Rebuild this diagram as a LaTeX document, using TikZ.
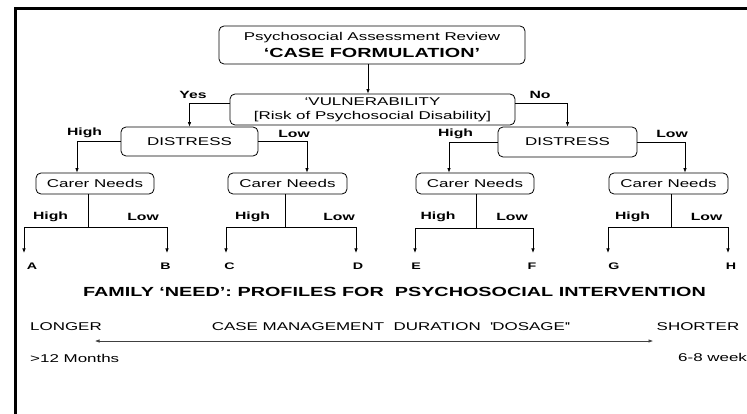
\documentclass[tikz,border=0pt]{standalone}
\usepackage{fontspec}
\setmainfont{Liberation Sans}[FakeStretch=1.5]
\usetikzlibrary{arrows.meta}

\tikzset{
  box/.style={draw, rounded corners=5pt, line width=0.8pt, inner sep=0pt, align=center, font=\fontsize{11.3}{14}\selectfont},
  lab/.style={font=\bfseries\fontsize{10.5}{12}\selectfont, inner sep=0pt},
  leaf/.style={font=\bfseries\fontsize{9.5}{11}\selectfont, inner sep=0pt},
  txt/.style={font=\fontsize{11.3}{13}\selectfont, inner sep=0pt},
  link/.style={line width=0.7pt, ->},
  stem/.style={line width=0.7pt},
}

\begin{document}
\begin{tikzpicture}[x=1pt, y=-1pt, >={Latex[length=4.5pt,width=3.5pt]}]
	\useasboundingbox (0,0) rectangle (747,414);
	% frame
	\draw[line width=3pt] (15,420) -- (15,9) -- (750,9);

	% top of the tree
	\node[box, minimum width=306pt, minimum height=38pt] (case) at (372,45)
		{Psychosocial Assessment Review\\[3pt]{\bfseries\fontsize{13.2}{15}\selectfont ‘CASE FORMULATION’}};
	\node[box, minimum width=285pt, minimum height=31pt] (vul) at (372.5,109.5)
		{‘VULNERABILITY\\{[Risk of Psychosocial Disability]}};
	\draw[link] ([xshift=-4pt]case.south) -- ([xshift=-4.5pt]vul.north);

	\node[box, minimum width=137pt, minimum height=29pt] (dist1) at (189.5,141.5) {DISTRESS};
	\node[box, minimum width=139pt, minimum height=30pt] (dist2) at (567.5,142) {DISTRESS};
	\node[lab] (yes) at (193,95) {Yes};
	\node[lab] (no) at (540,95) {No};
	\draw[link] ([yshift=6.5pt]vul.west) -| (dist1.north);
	\draw[link] ([yshift=6.5pt]vul.east) -| (dist2.north);

	% carer needs
	\node[box, minimum width=118pt, minimum height=21pt] (c1) at (95,183.5) {Carer Needs};
	\node[box, minimum width=119pt, minimum height=21pt] (c2) at (287.5,183.5) {Carer Needs};
	\node[box, minimum width=118pt, minimum height=21pt] (c3) at (475,183.5) {Carer Needs};
	\node[box, minimum width=119pt, minimum height=21pt] (c4) at (668.5,183.5) {Carer Needs};
	\node[lab] (h1) at (84.5,133) {High};
	\node[lab] (l1) at (294,134) {Low};
	\node[lab] (h2) at (455.5,134) {High};
	\node[lab] (l2) at (672,134) {Low};
	\draw[link] (dist1.west) -| ([xshift=-18pt]c1.north);
	\draw[link] (dist1.east) -| ([xshift=19.5pt]c2.north);
	\draw[link] (dist2.west) -| ([xshift=-26pt]c3.north);
	\draw[link] (dist2.east) -| ([xshift=16.5pt]c4.north);

	% profiles A to H
	\coordinate (j1) at (88,227);
	\coordinate (j2) at (285,227);
	\coordinate (j3) at (476,228);
	\coordinate (j4) at (671,227);
	\coordinate (ea) at (24,253);
	\coordinate (eb) at (167,253);
	\coordinate (ec) at (226,253);
	\coordinate (ed) at (356,253);
	\coordinate (ee) at (415,253);
	\coordinate (ef) at (533,253);
	\coordinate (eg) at (608,253);
	\coordinate (eh) at (728,253);
	\draw[stem] (c1.south -| j1) -- (j1);
	\draw[stem] (c2.south -| j2) -- (j2);
	\draw[stem] (c3.south -| j3) -- (j3);
	\draw[stem] (c4.south -| j4) -- (j4);
	\draw[link] (j1) -| (ea);
	\draw[link] (j1) -| (eb);
	\draw[link] (j2) -| (ec);
	\draw[link] (j2) -| (ed);
	\draw[link] (j3) -| (ee);
	\draw[link] (j3) -| (ef);
	\draw[link] (j4) -| (eg);
	\draw[link] (j4) -| (eh);
	\node[lab] (h11) at (50.5,217) {High};
	\node[lab] (l11) at (143,217) {Low};
	\node[lab] (h12) at (252.5,217) {High};
	\node[lab] (l12) at (339,217) {Low};
	\node[lab] (h21) at (438,217) {High};
	\node[lab] (l21) at (512,217) {Low};
	\node[lab] (h22) at (632.5,217) {High};
	\node[lab] (l22) at (706.5,217) {Low};
	\node[leaf] (A) at (32,266) {A};
	\node[leaf] (B) at (165.5,266) {B};
	\node[leaf] (C) at (229.5,266) {C};
	\node[leaf] (D) at (358,266) {D};
	\node[leaf] (E) at (416,266) {E};
	\node[leaf] (F) at (532,266) {F};
	\node[leaf] (G) at (614,266) {G};
	\node[leaf] (H) at (731,266) {H};

	% duration scale
	\node[font=\bfseries\fontsize{13.2}{15}\selectfont, inner sep=0pt] (family) at (394.5,292)
		{FAMILY ‘NEED’: PROFILES FOR\ \ PSYCHOSOCIAL INTERVENTION};
	\node[txt, anchor=west] (longer) at (30,327) {LONGER};
	\node[txt] (dosage) at (390.5,327) {CASE MANAGEMENT\ \ DURATION\ \ \textquotesingle DOSAGE\textquotesingle\textquotesingle};
	\node[txt] (shorter) at (698,327) {SHORTER};
	\coordinate (lend) at (95,341);
	\coordinate (rend) at (653,341);
	\draw[<->, line width=0.6pt, black!75] (lend) -- (rend);
	\node[txt, anchor=west] (months) at (30,358) {>12 Months};
	\node[txt, anchor=west] (weeks) at (678,357) {6-8 week};
\end{tikzpicture}
\end{document}
